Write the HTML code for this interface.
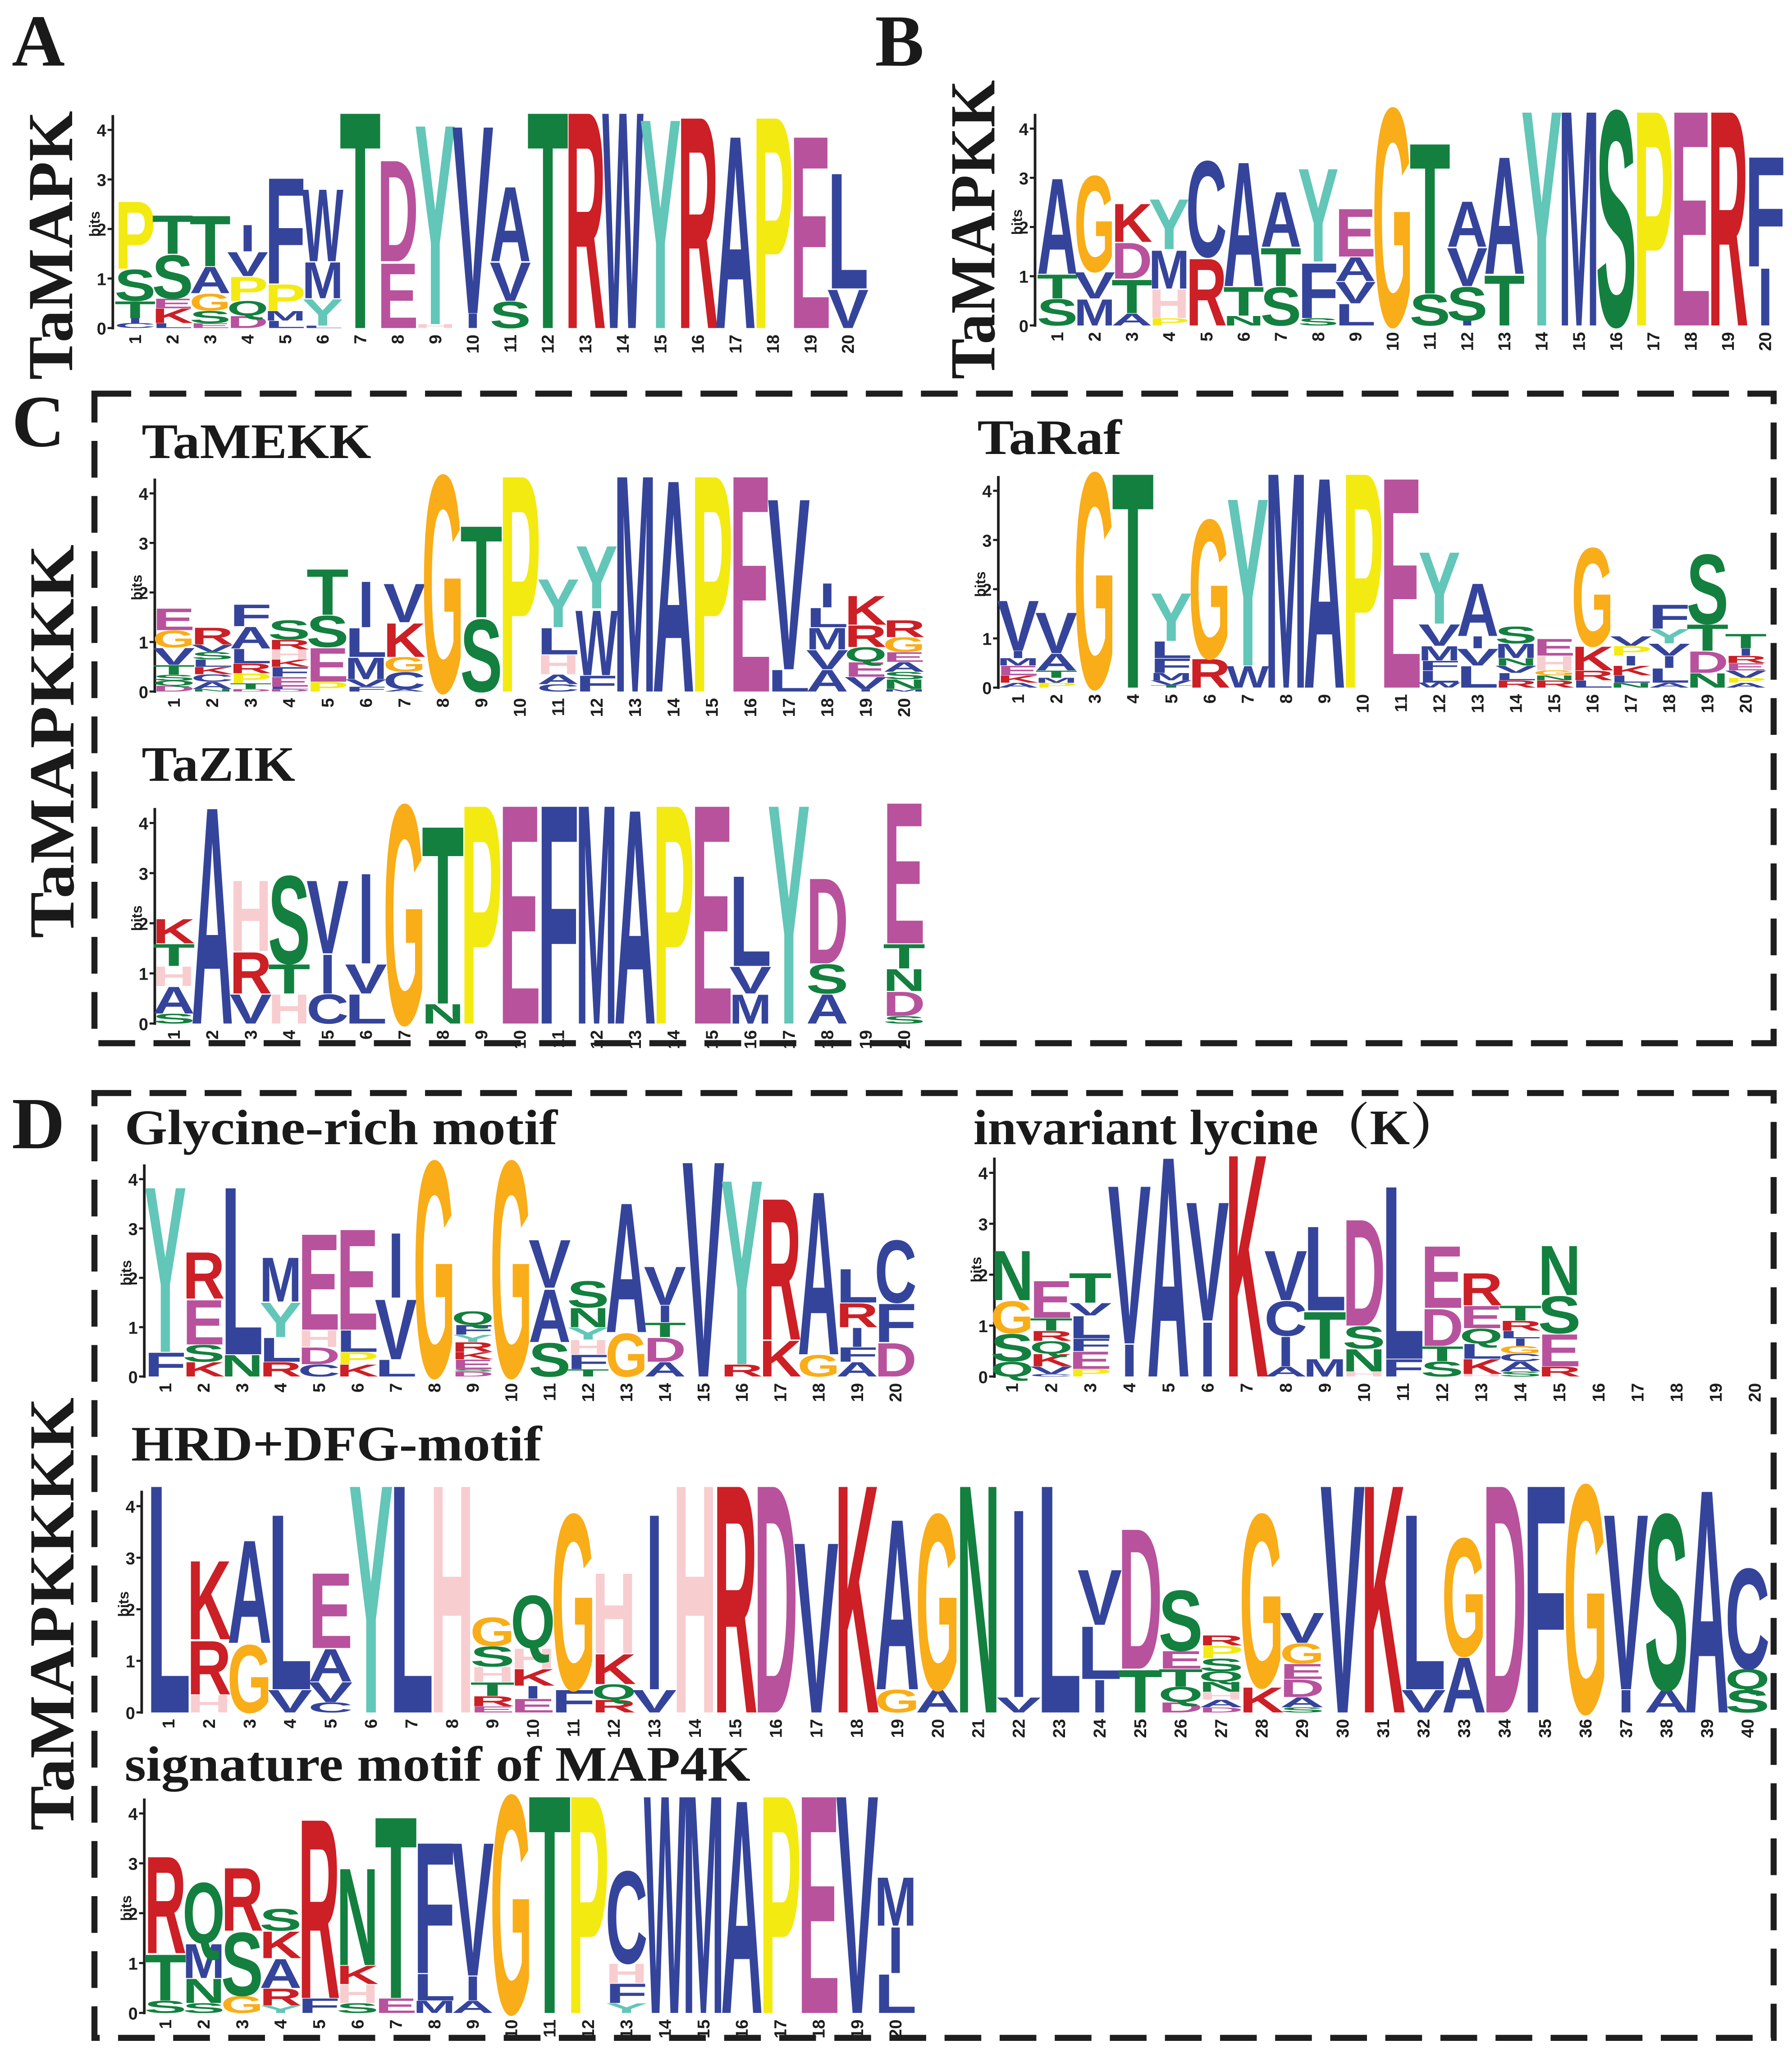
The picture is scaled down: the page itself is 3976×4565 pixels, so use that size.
<!DOCTYPE html>
<html>
<head>
<meta charset="utf-8">
<style>
  html,body{margin:0;padding:0;background:#ffffff;}
  svg{display:block;}
</style>
</head>
<body>
<svg id="fig" xmlns="http://www.w3.org/2000/svg" width="3976" height="4565" viewBox="0 0 1366 1568.36" preserveAspectRatio="none">
  <rect x="0" y="0" width="1366" height="1568.36" fill="#ffffff"/>
  <g font-family="'Liberation Serif', serif" font-weight="bold" fill="#1a1a1a">
    <text x="9" y="50" font-size="56">A</text>
    <text x="667" y="50" font-size="56">B</text>
    <text x="9" y="340" font-size="56">C</text>
    <text x="9" y="875" font-size="56">D</text>
    <text transform="translate(55,187) rotate(-90)" text-anchor="middle" font-size="49" textLength="205" lengthAdjust="spacingAndGlyphs">TaMAPK</text>
    <text transform="translate(758,175) rotate(-90)" text-anchor="middle" font-size="49" textLength="228" lengthAdjust="spacingAndGlyphs">TaMAPKK</text>
    <text transform="translate(56,565) rotate(-90)" text-anchor="middle" font-size="49" textLength="300" lengthAdjust="spacingAndGlyphs">TaMAPKKK</text>
    <text transform="translate(56,1230) rotate(-90)" text-anchor="middle" font-size="49" textLength="330" lengthAdjust="spacingAndGlyphs">TaMAPKKKK</text>
    <text x="108" y="349" font-size="38" textLength="175" lengthAdjust="spacingAndGlyphs">TaMEKK</text>
    <text x="745" y="346" font-size="38" textLength="110" lengthAdjust="spacingAndGlyphs">TaRaf</text>
    <text x="108" y="595" font-size="38" textLength="117" lengthAdjust="spacingAndGlyphs">TaZIK</text>
    <text x="95" y="872" font-size="38" textLength="330" lengthAdjust="spacingAndGlyphs">Glycine-rich motif</text>
    <text x="742" y="872" font-size="38" textLength="372" lengthAdjust="spacingAndGlyphs" font-family="'Liberation Serif','Noto Serif CJK SC',serif">invariant lycine（K）</text>
    <text x="100" y="1113" font-size="38" textLength="313" lengthAdjust="spacingAndGlyphs">HRD+DFG-motif</text>
    <text x="95" y="1357" font-size="38" textLength="477" lengthAdjust="spacingAndGlyphs">signature motif of MAP4K</text>
  </g>
  <rect x="72" y="300" width="1280" height="495" fill="none" stroke="#1e1e1e" stroke-width="4.6" stroke-dasharray="28,14"/>
  <rect x="72" y="833" width="1280" height="720" fill="none" stroke="#1e1e1e" stroke-width="4.6" stroke-dasharray="28,14"/>
  <g id="logos"></g>
</svg>
<script>
// ---- data: each column lists letter+bits from bottom to top ----
const tamapkCols = ["C.1 I.1 T.35 S.65 P1.4","L.1 K.3 E.2 S.9 T.8","E.1 S.25 G.35 A.55 T1.05","D.25 Q.3 P.5 V.5 I.55","L.15 M.2 P.55 F2.2","L.05 Y.55 M.75 W1.5","T4.5","E1.35 D2.1","H.08 Y4.15","I.3 V3.9","S.55 V.8 A1.55","T4.5","R4.5","W4.5","Y4.35","R4.4","A4.0","P4.4","E4.0","V.8 L2.4"];
const tamapkkCols = ["S.55 T.5 A2.0","M.55 V.55 G2.0","A.25 T.7 D.75 K.8","P.15 H.6 M.8 Y1.05","R1.4 C2.0","N.2 T.6 A2.6","S.8 T.8 A1.15","S.15 F1.15 Y1.95","L.45 V.45 A.5 E1.0","G4.55","S.65 T3.15","I.1 S.7 V.8 A.95","T1.05 A2.45","Y4.5","M4.5","S4.5","P4.5","E4.5","R4.5","I1.2 F2.3"];
const tamekkCols = ["D.12 Q.1 S.12 T.2 V.35 G.35 E.45","N.05 A.15 C.15 K.15 L.15 S.15 V.15 R.35","D.05 T.12 P.2 R.2 L.3 A.45 F.45","D.05 L.05 E.2 F.2 K.15 H.2 R.2 S.4","P.2 E.7 S.65 T.95","F.1 V.15 M.45 L.6 I.95","A.05 C.35 G.3 K.7 V.8","G4.5","S1.5 T1.9","P4.5","C.15 A.2 H.4 L.55 Y1.0","F.33 W1.35 Y1.3","M4.5","A4.4","P4.5","E4.5","L.45 V3.55","A.45 V.4 M.45 L.4 I.5","I.05 V.25 E.3 Q.3 R.45 K.6","M.05 N.2 S.15 A.2 E.2 G.3 R.35"];
const tarafCols = ["A.1 K.15 E.2 M.15 I.15 V1.05","P.1 M.1 T.15 A.35 V.85","G4.5","T4.5","T.05 V.1 M.15 F.3 L.35 Y1.0","R.6 G2.9","W.45 Y3.5","M4.5","A4.4","P4.5","E4.4","W.1 L.25 F.2 M.3 V.45 Y1.5","L.45 V.35 I.25 A1.1","R.15 L.15 V.15 N.15 M.3 S.35","R.15 N.1 G.1 H.3 E.35","L.15 R.2 K.5 G2.05","N.1 L.15 K.2 I.2 P.2 V.2","A.1 L.3 I.25 V.25 Y.3 F.5","N.3 D.45 T.55 S1.45","A.1 P.1 V.15 E.15 R.15 I.15 T.3"];
const tazikCols = ["S.2 A.55 H.4 T.45 K.5","A4.45","V.6 R.85 H1.45","H.6 T.6 S1.8","C.6 I.8 V1.5","L.6 V.6 I1.85","G4.5","N.4 T3.65","P4.5","E4.5","F4.5","M4.5","A4.4","P4.5","E4.5","M.6 V.55 L1.85","Y4.5","A.6 S.6 D1.75","","S.15 D.5 N.45 T.5 E2.9"];
const glycineCols = ["F.5 Y3.45","K.3 S.35 E.93 R.97","N.45 L3.5","R.3 L.5 Y.72 M.92","C.25 D.35 H.35 E2.0","K.25 P.25 L.45 E2.1","L.35 V1.25 I1.35","G4.5","D.1 S.05 E.2 K.15 R.2 Y.15 F.2 Q.28","G4.5","S.7 A1.1 V1.0","T.15 F.3 H.3 Y.25 N.4 S.55","G.9 A2.7","A.3 D.5 T.3 I.35 V.8","V4.5","R.25 Y3.85","K.75 R2.95","G.45 A3.4","A.3 F.3 I.4 R.5 L.7","D.7 F.8 C1.3"];
const lysineCols = ["Q.3 S.55 G.65 N1.0","C.05 V.15 K.25 Q.25 R.2 T.25 E.75","P.15 E.35 F.25 L.45 V.25 T.6","I.65 V3.2","A4.45","I1.1 V2.4","K4.5","A.2 I.6 C.7 V1.0","M.35 T.95 L1.7","H.1 N.45 S.45 D2.15","F.35 L3.5","S.3 T.3 D.75 E1.25","H.05 K.3 L.3 Q.3 E.45 R.65","S.1 A.2 C.15 G.15 I.15 L.15 R.2 T.3","R.2 E.65 S.75 N1.0","","","","",""];
const hrdCols = ["L4.55","H.35 R1.07 K1.57","G1.35 A2.05","V.45 L3.5","C.2 V.4 A.65 E1.5","Y4.55","L4.55","H4.55","E.12 R.2 T.27 H.3 S.4 G.57","E.27 I.25 K.33 H.4 Q1.05","F.45 G3.5","R.25 Q.3 K.6 H1.6","V.45 I3.5","H4.55","R4.55","D4.55","V3.4","K4.55","G.45 A3.4","A.45 G3.5","N4.55","V.3 I3.75","L4.55","I.65 L1.05 V1.1","T.85 D2.8","D.2 Q.3 T.35 E.35 S1.2","D.1 A.15 H.15 N.2 Q.2 S.25 P.25 R.2","K.5 G3.45","S.1 A.2 D.35 E.3 G.4 V.6","V4.55","K4.55","V.45 L3.5","A1.1 G2.35","D4.55","F4.55","G4.55","I.45 V3.5","A.45 S3.5","A4.45","S.45 Q.4 C2.0"];
const map4kCols = ["S.25 T.95 R2.0","S.2 N.5 M.7 Q1.25","G.35 S1.3 R1.3","Y.15 R.35 A.6 K.55 S.45","F.3 R3.7","S.2 H.38 K.38 N2.0","E.3 T3.75","M.25 L.55 F2.7","A.25 I.5 V2.75","G4.5","T4.5","P4.5","Y.2 F.4 H.4 C1.9","W4.5","M4.5","A4.4","P4.5","E4.5","V4.5","L.8 I.95 M1.0"];
const yTicks = [0, 1, 2, 3, 4];

// ---- rendering ----
const NS = "http://www.w3.org/2000/svg";
const colors = {A:"#35449b",V:"#35449b",L:"#35449b",I:"#35449b",M:"#35449b",F:"#35449b",W:"#35449b",C:"#35449b",
  T:"#13803f",S:"#13803f",N:"#13803f",Q:"#13803f",G:"#f9ad18",P:"#f3ea12",Y:"#62c6b8",
  R:"#cc1f26",K:"#cc1f26",E:"#b8529d",D:"#b8529d",H:"#f8cdd0"};
const CAP = 71.6;
const root = document.getElementById("logos");

function parseCol(s){
  const out=[]; const re=/([A-Z])([\d.]+)/g; let m;
  while((m=re.exec(s))!==null){ out.push([m[1], parseFloat(m[2])]); }
  return out;
}

function drawLogo(name, cols, cfg){
  const g = document.createElementNS(NS,"g");
  
  
  root.appendChild(g);
  const yOf = b => cfg.y0 - b*cfg.ppb;
  const xOf = i => cfg.c1 + i*cfg.w;
  const ax = document.createElementNS(NS,"line");
  
  
  ax.setAttribute("x1",cfg.ax); ax.setAttribute("x2",cfg.ax);
  ax.setAttribute("y1",cfg.y0+1); ax.setAttribute("y2",yOf(4.3));
  ax.setAttribute("stroke","#1e1e1e"); ax.setAttribute("stroke-width","2");
  g.appendChild(ax);
  yTicks.forEach(t=>{
    const tk=document.createElementNS(NS,"line");
    
    
    tk.setAttribute("x1",cfg.ax-4); tk.setAttribute("x2",cfg.ax);
    tk.setAttribute("y1",yOf(t)); tk.setAttribute("y2",yOf(t));
    tk.setAttribute("stroke","#1e1e1e"); tk.setAttribute("stroke-width","1.6");
    g.appendChild(tk);
    const tl=document.createElementNS(NS,"text");
    
    
    tl.setAttribute("x",cfg.ax-5); tl.setAttribute("y",yOf(t)+5);
    tl.setAttribute("text-anchor","end");
    tl.setAttribute("font-family","'Liberation Sans', sans-serif");
    tl.setAttribute("font-weight","bold");
    tl.setAttribute("font-size","13"); tl.setAttribute("fill","#1e1e1e");
    tl.textContent=String(t);
    g.appendChild(tl);
  });
  const bl=document.createElementNS(NS,"text");
  
  
  bl.setAttribute("transform","translate("+(cfg.ax-10)+","+yOf(2.1)+") rotate(-90)");
  bl.setAttribute("text-anchor","middle");
  bl.setAttribute("font-family","'Liberation Sans', sans-serif");
  bl.setAttribute("font-weight","bold");
  bl.setAttribute("font-size","11"); bl.setAttribute("fill","#1e1e1e");
  bl.textContent="bits";
  g.appendChild(bl);
  cols.forEach((s,i)=>{
    const cx = xOf(i);
    const pn=document.createElementNS(NS,"text");
    
    
    pn.setAttribute("transform","translate("+(cx+4.5)+","+(cfg.y0+5)+") rotate(-90)");
    pn.setAttribute("text-anchor","end");
    pn.setAttribute("font-family","'Liberation Sans', sans-serif");
    pn.setAttribute("font-weight","bold");
    pn.setAttribute("font-size","13"); pn.setAttribute("fill","#1e1e1e");
    pn.textContent=String(i+1);
    g.appendChild(pn);
    let base = 0;
    parseCol(s).forEach(([ch,h])=>{
      if(h>0.03){
        const lw = ch==="I" ? cfg.w*0.42 : cfg.w*1.1;
        const t=document.createElementNS(NS,"text");
        
        
        t.setAttribute("x",(-lw/2).toFixed(2)); t.setAttribute("y","0");
        t.setAttribute("textLength",lw.toFixed(2));
        t.setAttribute("lengthAdjust","spacingAndGlyphs");
        t.setAttribute("font-family","'Liberation Sans', sans-serif");
        t.setAttribute("font-weight","bold");
        t.setAttribute("font-size","100");
        t.setAttribute("fill",colors[ch]||"#35449b");
        const sy = (h*cfg.ppb)/CAP;
        t.setAttribute("transform","translate("+cx.toFixed(2)+","+yOf(base).toFixed(2)+") scale(1,"+sy.toFixed(4)+")");
        t.textContent=ch;
        g.appendChild(t);
      }
      base += h;
    });
  });
}

drawLogo("tamapk", tamapkCols, {ax:86, y0:250, ppb:37.75, c1:103, w:28.6});
drawLogo("tamapkk", tamapkkCols, {ax:789, y0:248, ppb:37.5, c1:806, w:28.4});
drawLogo("tamekk", tamekkCols, {ax:118, y0:527, ppb:37.75, c1:132.5, w:29.3});
drawLogo("taraf", tarafCols, {ax:761, y0:524, ppb:37.5, c1:776, w:29.2});
drawLogo("tazik", tazikCols, {ax:118, y0:780, ppb:38.2, c1:132.5, w:29.3});
drawLogo("glycine-rich", glycineCols, {ax:110, y0:1049, ppb:37.6, c1:126, w:29.3});
drawLogo("invariant-lysine", lysineCols, {ax:758, y0:1049, ppb:38.8, c1:771.5, w:29.8});
drawLogo("hrd-dfg", hrdCols, {ax:108, y0:1305, ppb:39.3, c1:128.5, w:30.86});
drawLogo("map4k-signature", map4kCols, {ax:110, y0:1534, ppb:38, c1:126, w:29.3});
</script>
</body>
</html>
